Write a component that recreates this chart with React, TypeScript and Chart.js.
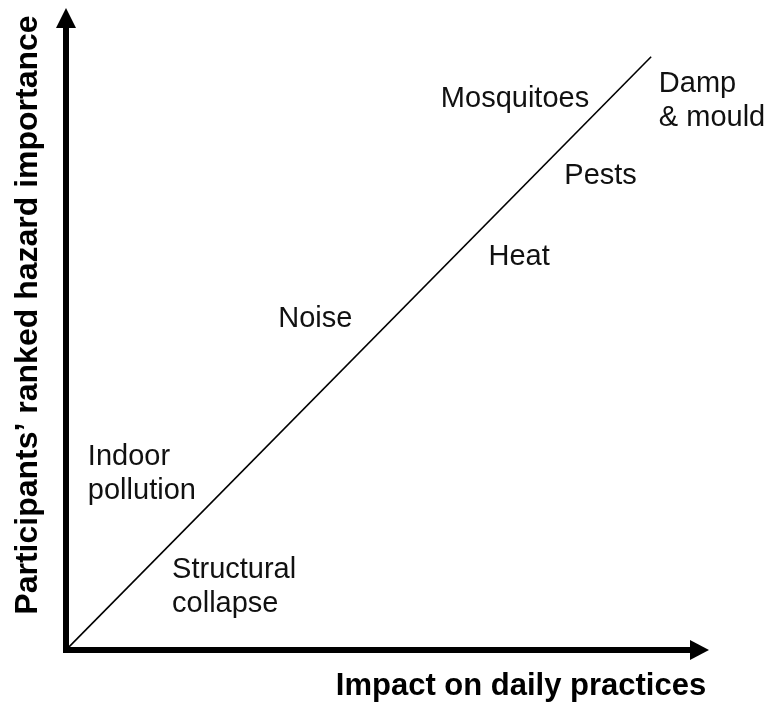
import React, { useEffect, useRef } from "react";
import { Chart, registerables } from "chart.js";

Chart.register(...registerables);

// Hazards placed by impact on daily practices (x) and ranked importance (y), 0–100 scale
const hazards = [
  ["Mosquitoes"],
  ["Damp", "& mould"],
  ["Pests"],
  ["Heat"],
  ["Noise"],
  ["Indoor", "pollution"],
  ["Structural", "collapse"],
];
const impactOnPractices = [58.3, 92.2, 77.5, 65.7, 33.0, 3.4, 16.5];
const rankedImportance = [84.6, 86.9, 72.6, 60.0, 50.3, 28.8, 11.2];

// Diagonal reference line
const diagonalX = [0, 91];
const diagonalY = [0, 92.4];

const xTitle = "Impact on daily practices";
const yTitle = "Participants’ ranked hazard importance";

const FONT = "'Liberation Sans', Arial, sans-serif";

const overlayPlugin = {
  id: "overlay",
  afterDatasetsDraw(chart: any) {
    const { ctx, chartArea, scales } = chart;
    const { left, right, top, bottom } = chartArea;
    ctx.save();
    // axes with arrows
    ctx.fillStyle = "#000";
    ctx.strokeStyle = "#000";
    ctx.lineWidth = 6;
    ctx.lineCap = "butt";
    ctx.beginPath();
    ctx.moveTo(left, bottom + 3);
    ctx.lineTo(left, top + 18);
    ctx.moveTo(left - 3, bottom);
    ctx.lineTo(right - 17, bottom);
    ctx.stroke();
    ctx.beginPath();
    ctx.moveTo(left, top);
    ctx.lineTo(left - 10, top + 20);
    ctx.lineTo(left + 10, top + 20);
    ctx.closePath();
    ctx.fill();
    ctx.beginPath();
    ctx.moveTo(right, bottom);
    ctx.lineTo(right - 19, bottom - 10);
    ctx.lineTo(right - 19, bottom + 10);
    ctx.closePath();
    ctx.fill();

    // hazard labels
    ctx.fillStyle = "#111";
    ctx.font = `29px ${FONT}`;
    ctx.textAlign = "left";
    ctx.textBaseline = "alphabetic";
    hazards.forEach((lines, i) => {
      const px = scales.x.getPixelForValue(impactOnPractices[i]);
      const py = scales.y.getPixelForValue(rankedImportance[i]);
      lines.forEach((ln, j) => ctx.fillText(ln, px, py + j * 34));
    });

    // axis titles
    ctx.fillStyle = "#000";
    ctx.font = `bold 31px ${FONT}`;
    ctx.textAlign = "center";
    ctx.fillText(xTitle, 521, bottom + 45);
    ctx.save();
    ctx.translate(37, 315);
    ctx.rotate(-Math.PI / 2);
    ctx.font = `bold 32px ${FONT}`;
    ctx.fillText(yTitle, 0, 0);
    ctx.restore();
    ctx.restore();
  },
};

export default function App() {
  const ref = useRef<HTMLCanvasElement>(null);
  useEffect(() => {
    document.body.style.margin = "0";
    const chart = new Chart(ref.current!, {
      type: "scatter",
      data: {
        datasets: [
          {
            type: "line",
            data: diagonalX.map((x, i) => ({ x, y: diagonalY[i] })),
            borderColor: "#000",
            borderWidth: 1.6,
            pointRadius: 0,
            fill: false,
          } as any,
          {
            type: "scatter",
            data: impactOnPractices.map((x, i) => ({ x, y: rankedImportance[i] })),
            pointRadius: 0,
            backgroundColor: "transparent",
          },
        ],
      },
      options: {
        responsive: false,
        animation: false,
        devicePixelRatio: 1,
        layout: { padding: { left: 66, top: 8, right: 67, bottom: 56 } },
        plugins: { legend: { display: false }, tooltip: { enabled: false } },
        scales: {
          x: { type: "linear", min: 0, max: 100, display: false },
          y: { type: "linear", min: 0, max: 100, display: false },
        },
      },
      plugins: [overlayPlugin],
    });
    return () => chart.destroy();
  }, []);
  return (
    <div style={{ width: 776, height: 706, background: "#fff" }}>
      <canvas ref={ref} width={776} height={706} />
    </div>
  );
}
